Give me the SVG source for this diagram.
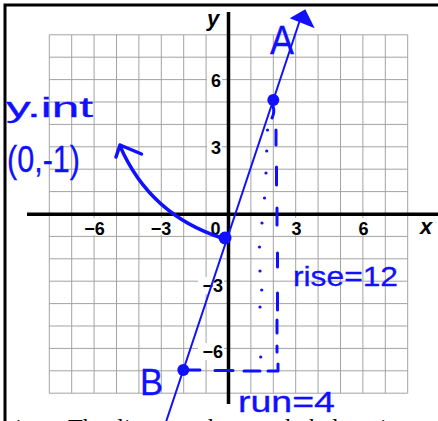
<svg xmlns="http://www.w3.org/2000/svg" width="438" height="421" viewBox="0 0 438 421">
<style>
.grid{stroke:#a3a3a3;stroke-width:1;fill:none}
.axis{stroke:#000;stroke-width:3.5;fill:none}
.frame{stroke:#000;stroke-width:3;fill:none}
.tick{font-family:"Liberation Sans",Arial,sans-serif;font-weight:bold;font-size:18px;fill:#000}
.axlab{font-family:"Liberation Sans",Arial,sans-serif;font-weight:bold;font-style:italic;font-size:22px;fill:#000}
.bg{fill:#fff}
.ink{stroke:#1010ff;fill:none;stroke-linecap:round;stroke-linejoin:round}
.hand{font-family:"Liberation Sans",Arial,sans-serif;fill:#1010ff;stroke:#1010ff;stroke-width:0.3}
.dot{fill:#1010ff}
.body{font-family:"Liberation Serif","Times New Roman",serif;font-size:24px;fill:#000}
</style>
<rect width="438" height="421" fill="#fff"/>
<g id="frame">
<path class="frame" d="M5,421 V5 H438"/>
</g>
<g id="grid">
<path class="grid" d="M49.3,34.8V393.2M71.7,34.8V393.2M94.1,34.8V393.2M116.5,34.8V393.2M138.9,34.8V393.2M161.3,34.8V393.2M183.7,34.8V393.2M206.1,34.8V393.2M250.9,34.8V393.2M273.3,34.8V393.2M295.7,34.8V393.2M318.1,34.8V393.2M340.5,34.8V393.2M362.9,34.8V393.2M385.3,34.8V393.2M407.7,34.8V393.2
M49.3,34.8H407.7M49.3,57.2H407.7M49.3,79.6H407.7M49.3,102H407.7M49.3,124.4H407.7M49.3,146.8H407.7M49.3,169.2H407.7M49.3,191.6H407.7M49.3,236.4H407.7M49.3,258.8H407.7M49.3,281.2H407.7M49.3,303.6H407.7M49.3,326H407.7M49.3,348.4H407.7M49.3,370.8H407.7M49.3,393.2H407.7"/>
</g>
<g id="tick-labels">
<rect class="bg" x="82" y="218" width="25" height="17"/>
<rect class="bg" x="148" y="218" width="26" height="17"/>
<rect class="bg" x="209" y="218" width="13" height="17"/>
<rect class="bg" x="290" y="218" width="13" height="17"/>
<rect class="bg" x="357" y="218" width="13" height="17"/>
<rect class="bg" x="207" y="72" width="15" height="16"/>
<rect class="bg" x="207" y="139" width="15" height="17"/>
<rect class="bg" x="198" y="277" width="26" height="17"/>
<rect class="bg" x="198" y="343" width="26" height="17"/>
<text class="tick" x="94.5" y="235" text-anchor="middle">−6</text>
<text class="tick" x="161" y="235" text-anchor="middle">−3</text>
<text class="tick" x="215.5" y="235" text-anchor="middle">0</text>
<text class="tick" x="296.5" y="235" text-anchor="middle">3</text>
<text class="tick" x="363.5" y="235" text-anchor="middle">6</text>
<text class="tick" x="221" y="87" text-anchor="end">6</text>
<text class="tick" x="221" y="154" text-anchor="end">3</text>
<text class="tick" x="223" y="292" text-anchor="end">−3</text>
<text class="tick" x="223" y="358" text-anchor="end">−6</text>
</g>
<g id="axes">
<path class="axis" d="M27,214.2 H438 M228.5,12 V404"/>
<text class="axlab" x="207" y="26">y</text>
<text class="axlab" x="420" y="234">x</text>
</g>
<g id="connectors">
<path class="ink" stroke-width="2" d="M166.3,421 L299.3,22"/>
<polygon fill="#1010ff" points="289.7,18.3 305.3,9.3 314.7,28.3"/>
<path class="ink" stroke-width="3.5" d="M222,238 Q150,215 120,146 M116,157 L120,145 L141.5,154"/>
<path class="ink" stroke-width="3" d="M273,106 q2,6 -1,12 M276,130 v15 M276.5,167 v18 M277,208 v17 M277.5,253 v14 M277.5,293 v17 M277,320 v13 M277,346 v6 M268,371 h10 v-7"/>
<path class="ink" stroke-width="3" d="M183,370 h17 M215,370.5 h18 M244,371 h16"/>
<g class="dot">
<circle cx="267.5" cy="130" r="1.6"/><circle cx="266.7" cy="151" r="1.6"/><circle cx="266" cy="173" r="1.6"/><circle cx="264.5" cy="198" r="1.6"/><circle cx="262" cy="223" r="1.6"/><circle cx="259.5" cy="247" r="1.6"/><circle cx="260" cy="271" r="1.6"/><circle cx="261.7" cy="290" r="1.6"/><circle cx="260" cy="307" r="1.6"/><circle cx="260.7" cy="357" r="1.6"/>
</g>
</g>
<g id="point-A">
<circle class="dot" cx="273.3" cy="100" r="6"/>
<text class="hand" x="270" y="54" font-size="40" textLength="24" lengthAdjust="spacingAndGlyphs">A</text>
</g>
<g id="point-B">
<circle class="dot" cx="183.3" cy="370" r="6"/>
<text class="hand" x="140" y="395" font-size="36" textLength="23" lengthAdjust="spacingAndGlyphs">B</text>
</g>
<g id="y-int">
<circle class="dot" cx="225" cy="238" r="6.5"/>
<text class="hand" x="6" y="117" font-size="28" textLength="87" lengthAdjust="spacingAndGlyphs">y.int</text>
<text class="hand" x="7" y="172" font-size="36" textLength="73" lengthAdjust="spacingAndGlyphs">(0,-1)</text>
</g>
<g id="rise">
<text class="hand" x="293" y="286" font-size="28" textLength="105" lengthAdjust="spacingAndGlyphs">rise=12</text>
</g>
<g id="run">
<text class="hand" x="238" y="412" font-size="30" textLength="97" lengthAdjust="spacingAndGlyphs">run=4</text>
</g>
<text class="body" x="12" y="435">1.</text>
<text class="body" x="68" y="435" word-spacing="6">The line on the graph below is</text>
</svg>
